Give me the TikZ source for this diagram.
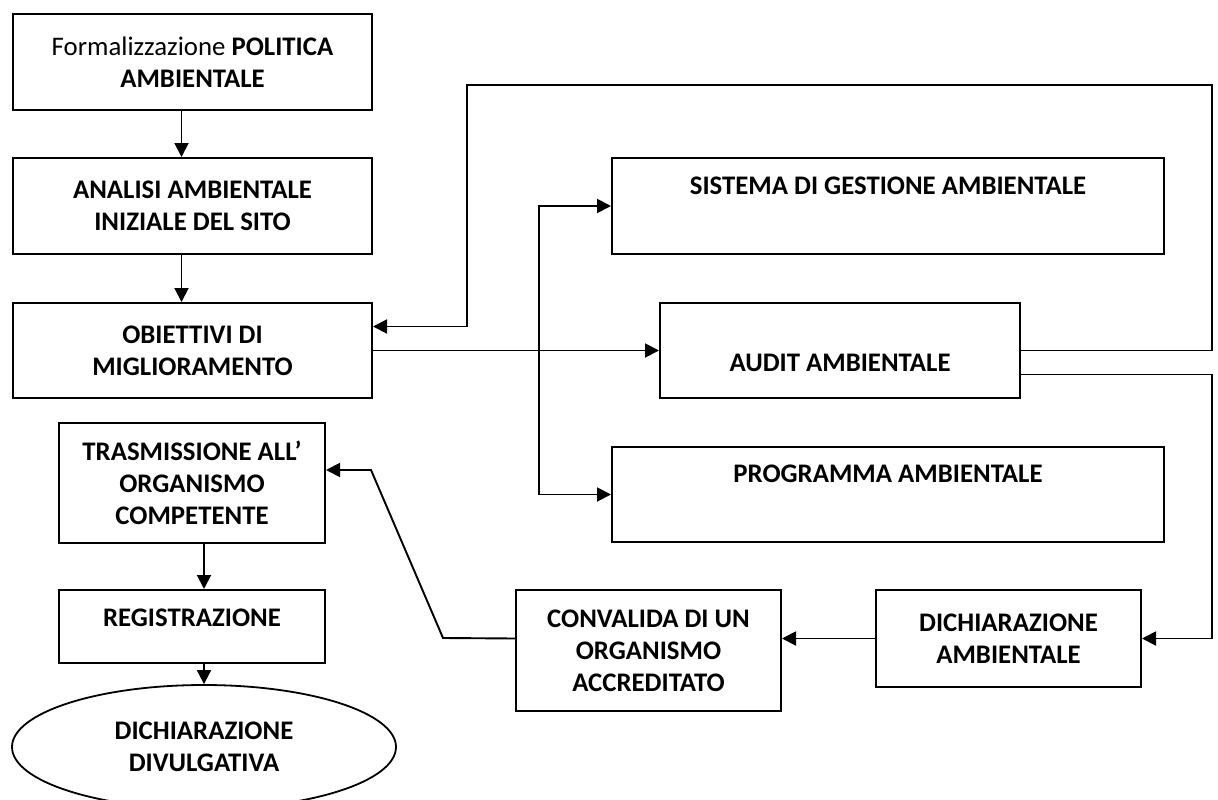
\documentclass[tikz,border=0pt]{standalone}
\usepackage{fontspec}
\setmainfont{Carlito}
\usetikzlibrary{arrows.meta,shapes.geometric}

\tikzset{
	blk/.style={draw,line width=2pt,inner sep=0pt,anchor=north west,align=center,font=\fontsize{26.8}{32}\selectfont\bfseries},
	oval/.style={draw,ellipse,line width=1.8pt,inner sep=0pt,align=center,font=\fontsize{26.8}{32}\selectfont\bfseries},
	arr/.style={line width=1.9pt,-{Triangle[length=14pt,width=14pt]}}
}

\begin{document}
\begin{tikzpicture}[x=1pt,y=-1pt]

	\useasboundingbox (0,0) rectangle (1218,800);

	% left column
	\node[blk,minimum width=359pt,minimum height=96pt] (pol) at (12,13) {{\mdseries Formalizzazione} POLITICA\\AMBIENTALE};
	\node[blk,minimum width=359pt,minimum height=96pt] (ana) at (12,157) {ANALISI AMBIENTALE\\INIZIALE DEL SITO};
	\node[blk,minimum width=359pt,minimum height=95pt] (obi) at (12,302) {OBIETTIVI DI\\MIGLIORAMENTO};
	\node[blk,minimum width=266pt,minimum height=120pt] (tra) at (58,422) {TRASMISSIONE ALL’\\ORGANISMO\\COMPETENTE};
	\node[blk,minimum width=266pt,text height=36pt,text depth=37pt] (reg) at (58,589) {REGISTRAZIONE};
	\node[oval,minimum width=384pt,minimum height=124pt] (ell) at (204,747) {DICHIARAZIONE\\DIVULGATIVA};

	% right column
	\node[blk,minimum width=552pt,text height=36.4pt,text depth=59.6pt] (sis) at (611,157) {SISTEMA DI GESTIONE AMBIENTALE};
	\node[blk,minimum width=360pt,text height=68.4pt,text depth=26.6pt] (aud) at (659,302) {AUDIT AMBIENTALE};
	\node[blk,minimum width=552pt,text height=35.4pt,text depth=59.6pt] (prg) at (611,446) {PROGRAMMA AMBIENTALE};
	\node[blk,minimum width=265pt,minimum height=121pt] (con) at (515,589) {CONVALIDA DI UN\\ORGANISMO\\ACCREDITATO};
	\node[blk,minimum width=265pt,minimum height=97pt] (dic) at (875,589) {DICHIARAZIONE\\AMBIENTALE};

	% bends
	\coordinate (jn) at (539,350);
	\coordinate (rt) at (1212,85);
	\coordinate (lt) at (467,85);
	\coordinate (k1) at (443,638);
	\coordinate (k2) at (371,470);

	% arrows
	\draw[arr] ([xshift=-11pt]pol.south) -- ([xshift=-11pt]ana.north);
	\draw[arr] ([xshift=-11pt]ana.south) -- ([xshift=-11pt]obi.north);
	\draw[arr] (obi.east) -- (aud.west);
	\draw[arr] (jn) |- (sis.west);
	\draw[arr] (jn) |- (prg.west);
	\draw[arr] (aud.east) -| (rt) -- (lt) |- ([yshift=24pt]obi.east);
	\draw[arr] ([yshift=-24pt]aud.east) -| (rt |- dic.east) -- (dic.east);
	\draw[arr] (dic.west) -- (dic.west -| con.east);
	\draw[arr] (con.west |- dic.west) -- (k1) -- (k2) -- (k2 -| tra.east);
	\draw[arr] (tra.south -| ell.north) -- (reg.north -| ell.north);
	\draw[arr] (reg.south -| ell.north) -- (ell.north);

\end{tikzpicture}
\end{document}
